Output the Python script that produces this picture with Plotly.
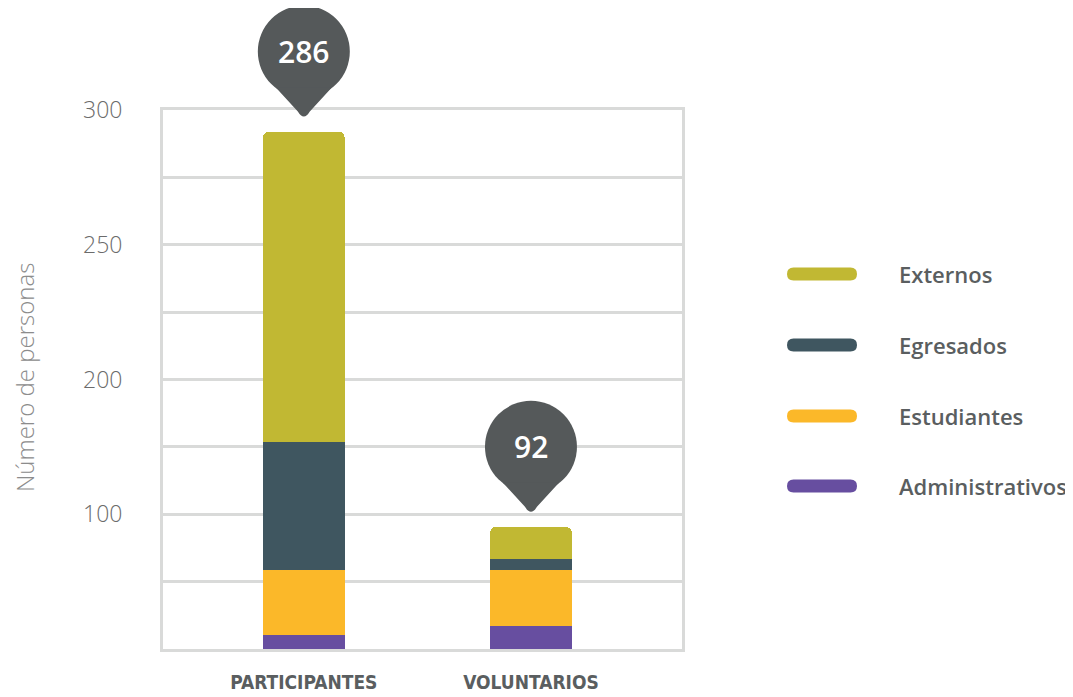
import plotly.graph_objects as go

categorias = ["PARTICIPANTES", "VOLUNTARIOS"]
totales = [286, 92]

administrativos = [8, 13]
estudiantes = [36, 31]
egresados = [71, 6]
externos = [173, 18]

grid_vals = [0, 37.5, 75, 112.5, 150, 187.5, 225, 262.5, 300]
grid_text = ["", "", "100", "", "200", "", "250", "", "300"]
y_max = 300

series = [
    ("Administrativos", administrativos, "#674ea0"),
    ("Estudiantes", estudiantes, "#fbb829"),
    ("Egresados", egresados, "#3f5660"),
    ("Externos", externos, "#c1b833"),
]

# the page body has an 8px margin, so the figure is laid out 8px smaller
OFF = 8
W, H = 1073 - OFF, 697 - OFF
L, T = 163 - OFF, 110 - OFF
R, B = W - (682 - OFF), H - (649 - OFF)
pw, ph = W - L - R, H - T - B
GRID = "#d9dad9"
TXT = "#5a5e60"
PIN = "#55595a"


def px_x(p):
    return (p - OFF - L) / pw


def px_y(p):
    return (H - B - (p - OFF)) / ph


fig = go.Figure()
for name, vals, color in series:
    fig.add_trace(go.Bar(x=categorias, y=vals, name=name,
                         marker=dict(color=color, line=dict(width=0)),
                         width=0.36, showlegend=False))

shapes = []
annotations = []

# pin bubbles with the totals
stack_tops = [sum(v) for v in zip(*[s[1] for s in series])]
for cat, top, label in zip(categorias, stack_tops, totales):
    shapes.append(dict(type="circle", xref="x", yref="paper", xsizemode="pixel", ysizemode="pixel",
                       xanchor=cat, yanchor=top / y_max, x0=-46, x1=46, y0=34, y1=126,
                       fillcolor=PIN, line=dict(width=0), layer="above"))
    shapes.append(dict(type="path", xref="x", yref="paper", xsizemode="pixel", ysizemode="pixel",
                       xanchor=cat, yanchor=top / y_max,
                       path="M 0 15 Q 3 15 6 20 L 28 44 L -28 44 L -6 20 Q -3 15 0 15 Z",
                       fillcolor=PIN, line=dict(width=0), layer="above"))
    annotations.append(dict(x=cat, y=top, xref="x", yref="y", yshift=80, showarrow=False,
                            text=str(label), xanchor="center", yanchor="middle",
                            font=dict(size=30, color="white", family="Open Sans", weight=600)))

# custom legend
leg_y = [274, 345, 416, 486]
for (name, vals, color), yy in zip(reversed(series), leg_y):
    shapes.append(dict(type="path", xref="paper", yref="paper", xsizemode="pixel", ysizemode="pixel",
                       xanchor=px_x(822), yanchor=px_y(yy),
                       path="M -28.5 -6.5 L 28.5 -6.5 Q 35 -6.5 35 0 Q 35 6.5 28.5 6.5 "
                            "L -28.5 6.5 Q -35 6.5 -35 0 Q -35 -6.5 -28.5 -6.5 Z",
                       fillcolor=color, line=dict(width=0)))
    annotations.append(dict(x=px_x(897), y=px_y(yy), xref="paper", yref="paper", showarrow=False,
                            text=name, xanchor="left", yanchor="middle",
                            font=dict(size=22, color=TXT, family="Open Sans", weight=600)))

annotations.append(dict(x=px_x(24), y=px_y(378), xref="paper", yref="paper", showarrow=False,
                        text="Número de personas", textangle=-90, xanchor="center", yanchor="middle",
                        font=dict(size=24, color="#8c8c8c", family="Open Sans", weight=300)))

fig.update_layout(
    barmode="stack",
    barcornerradius=6,
    width=W, height=H,
    autosize=False,
    margin=dict(l=L, r=R, t=T, b=B, pad=0, autoexpand=False),
    paper_bgcolor="white", plot_bgcolor="white",
    shapes=shapes, annotations=annotations,
    xaxis=dict(range=[-0.62, 1.665], showgrid=False, showline=True, mirror=True,
               linecolor=GRID, linewidth=3, ticks="", ticklabelstandoff=14, automargin=False,
               tickfont=dict(size=19, color=TXT, family="DejaVu Sans Condensed", weight="bold")),
    yaxis=dict(range=[0, y_max], tickvals=grid_vals, ticktext=grid_text, showgrid=True,
               gridcolor=GRID, gridwidth=3, zeroline=False, showline=True, mirror=True,
               linecolor=GRID, linewidth=3, ticks="", ticklabelstandoff=33, automargin=False,
               tickfont=dict(size=23, color="#6b6b6b", family="Open Sans", weight=300)),
)

fig.write_html("out.html")
